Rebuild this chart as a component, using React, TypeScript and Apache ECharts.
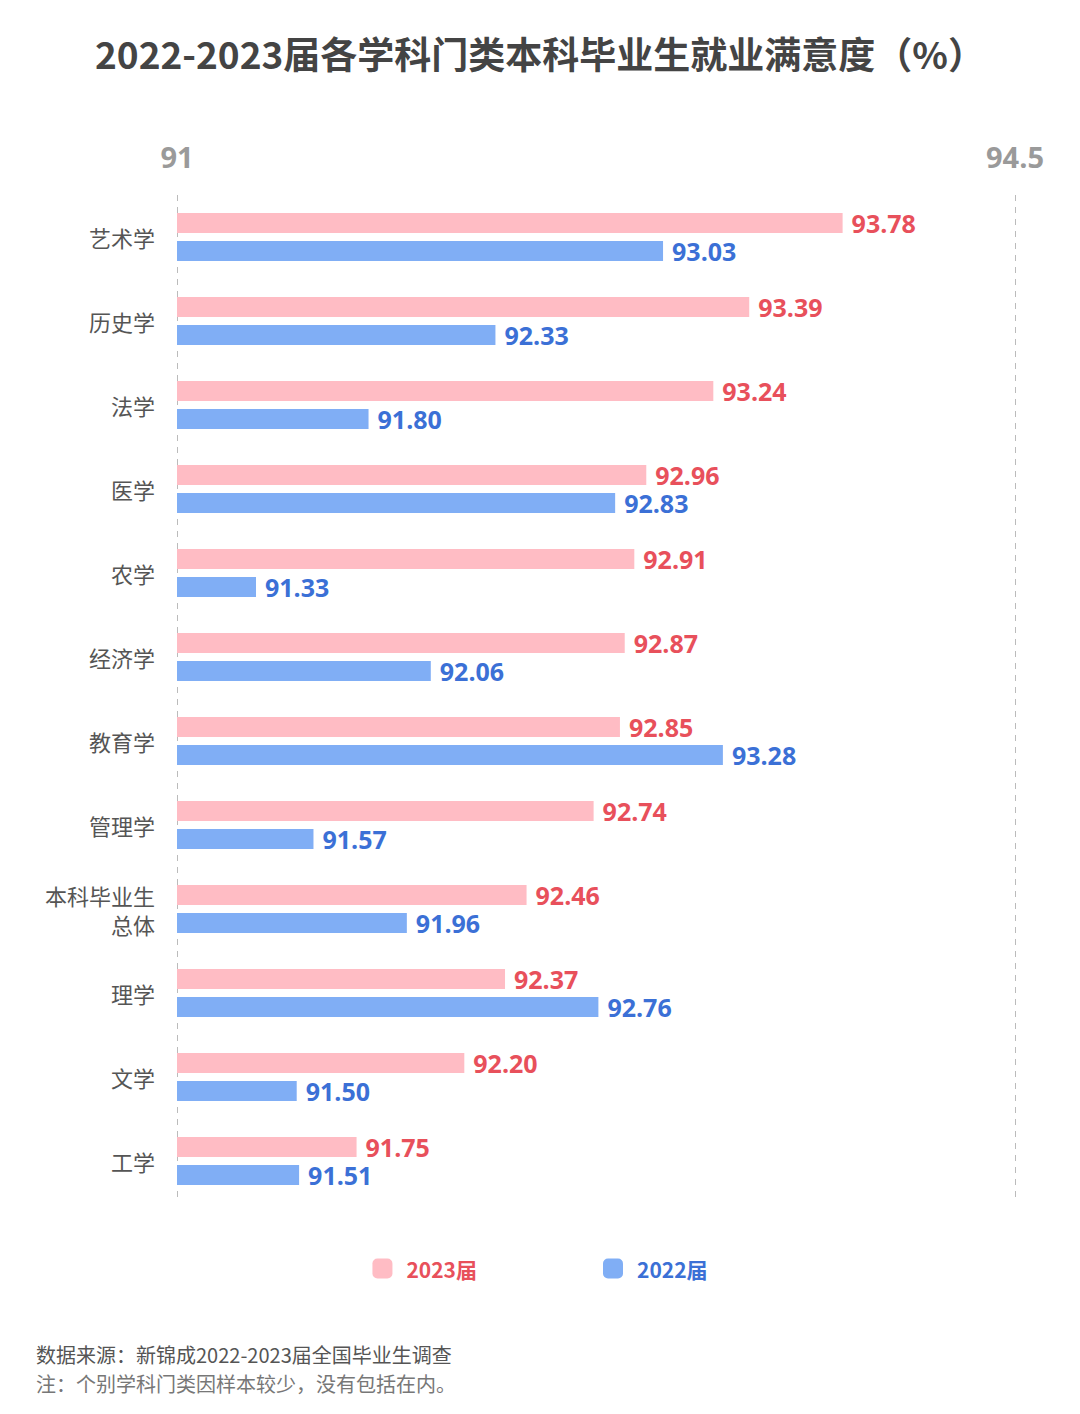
import React, { useEffect, useRef } from "react";
import * as echarts from "echarts";

const categories = ["艺术学", "历史学", "法学", "医学", "农学", "经济学", "教育学", "管理学", "本科毕业生\n总体", "理学", "文学", "工学"];
const values2023 = [93.78, 93.39, 93.24, 92.96, 92.91, 92.87, 92.85, 92.74, 92.46, 92.37, 92.2, 91.75];
const values2022 = [93.03, 92.33, 91.8, 92.83, 91.33, 92.06, 93.28, 91.57, 91.96, 92.76, 91.5, 91.51];
const seriesNames = ["2023届", "2022届"];
const axisMin = 91;
const axisMax = 94.5;

const FONT = "'Noto Sans CJK SC', 'Noto Sans', sans-serif";
const NUM_FONT = "'Open Sans', 'Noto Sans CJK SC', sans-serif";
const PINK = "#FFBCC4";
const BLUE = "#80AEF5";
const PINK_TEXT = "#E8505B";
const BLUE_TEXT = "#3B70D6";

export default function App() {
  const ref = useRef<HTMLDivElement>(null);
  useEffect(() => {
    document.body.style.margin = "0";
    const chart = echarts.init(ref.current!, null, { renderer: "svg" });
    const labelStyle = (color: string) => ({
      show: true,
      position: "right",
      distance: 9,
      fontFamily: NUM_FONT,
      fontSize: 25,
      lineHeight: 24,
      fontWeight: "bold",
      color,
      formatter: (p: any) => Number(p.value).toFixed(2),
    });
    chart.setOption({
      animation: false,
      backgroundColor: "#ffffff",
      title: {
        text: "2022-2023届各学科门类本科毕业生就业满意度（%）",
        left: "center",
        top: 29,
        textStyle: { fontFamily: FONT, fontSize: 37, fontWeight: "bold", color: "#444444" },
      },
      legend: {
        data: [
          { name: seriesNames[0], textStyle: { color: PINK_TEXT } },
          { name: seriesNames[1], textStyle: { color: BLUE_TEXT } },
        ],
        left: "center",
        top: 1258,
        padding: 0,
        itemWidth: 20,
        itemHeight: 20,
        itemGap: 126,
        icon: "roundRect",
        textStyle: { fontFamily: FONT, fontSize: 21, fontWeight: "bold", padding: [0, 0, 0, 9] },
      },
      grid: { left: 177, right: 65, top: 195, bottom: 211, containLabel: false },
      xAxis: {
        type: "value",
        position: "top",
        min: axisMin,
        max: axisMax,
        interval: 3.5,
        axisLine: { show: false },
        axisTick: { show: false },
        splitLine: { show: true, lineStyle: { type: [6, 6], color: "#bbbbbb", width: 1 } },
        axisLabel: {
          margin: 24,
          fontFamily: NUM_FONT,
          fontSize: 29,
          fontWeight: "bold",
          color: "#9a9a9a",
          formatter: (v: number) => String(v),
        },
      },
      yAxis: {
        type: "category",
        data: categories,
        inverse: true,
        axisLine: { show: false },
        axisTick: { show: false },
        axisLabel: {
          margin: 22,
          fontFamily: FONT,
          fontSize: 22,
          lineHeight: 29,
          color: "#555555",
          align: "right",
        },
      },
      series: [
        {
          name: seriesNames[0],
          type: "bar",
          data: values2023,
          barWidth: 20,
          barGap: "40%",
          itemStyle: { color: PINK },
          label: labelStyle(PINK_TEXT),
        },
        {
          name: seriesNames[1],
          type: "bar",
          data: values2022,
          barWidth: 20,
          barGap: "40%",
          itemStyle: { color: BLUE },
          label: labelStyle(BLUE_TEXT),
        },
      ],
      graphic: [
        {
          type: "text",
          left: 36,
          top: 1344,
          style: { text: "数据来源：新锦成2022-2023届全国毕业生调查", fontFamily: FONT, fontSize: 20, fill: "#555555" },
        },
        {
          type: "text",
          left: 36,
          top: 1373,
          style: { text: "注：个别学科门类因样本较少，没有包括在内。", fontFamily: FONT, fontSize: 20, fill: "#777777" },
        },
      ],
    });
    return () => chart.dispose();
  }, []);
  return <div ref={ref} style={{ width: 1080, height: 1414 }} />;
}
